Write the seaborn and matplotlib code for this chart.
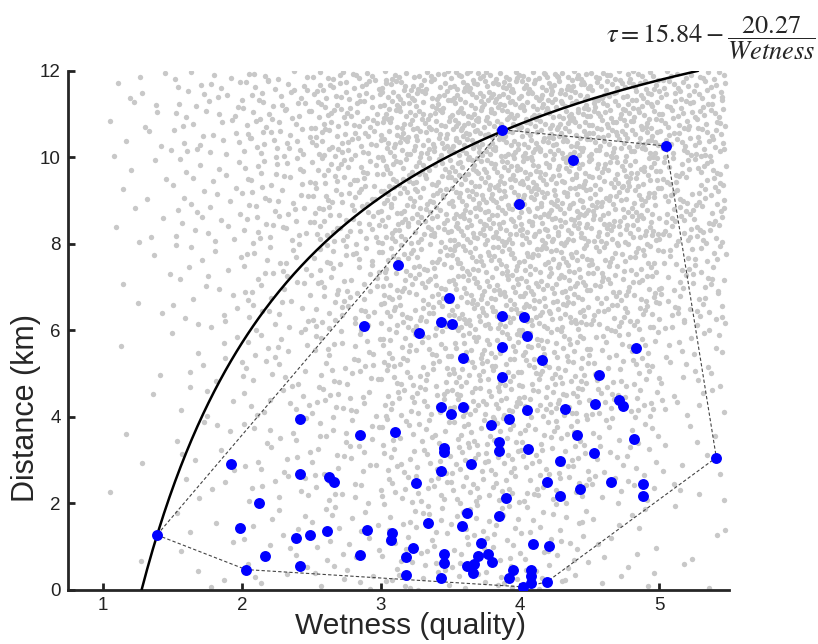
import numpy as np
import pandas as pd
import matplotlib
matplotlib.use("Agg")
import matplotlib.pyplot as plt
import seaborn as sns

# blue points (wetness, distance)
wet = [3.87, 5.05, 4.38, 3.99, 3.12, 3.49, 2.88, 3.27, 3.43, 3.51,
       3.87, 4.03, 4.05, 3.87, 3.59, 4.16, 4.83, 4.57, 3.87, 3.43,
       3.59, 3.50, 4.05, 3.92, 4.32, 4.54, 4.71, 4.74, 2.42, 2.85,
       3.10, 3.79, 3.85, 3.85, 4.06, 3.45, 3.45, 3.65, 3.43, 3.25,
       4.41, 4.82, 4.53, 4.29, 4.19, 4.65, 4.88, 4.43, 4.29, 4.88,
       3.90, 3.85, 5.41, 4.09, 4.21, 3.95, 3.92, 4.08, 4.08, 4.08,
       4.19, 4.02, 1.92, 2.42, 2.63, 2.66, 2.12, 1.99, 1.39, 2.39,
       2.49, 2.61, 2.17, 2.03, 2.42, 3.62, 3.58, 3.34, 2.90, 3.08,
       3.07, 3.23, 3.18, 2.85, 3.18, 3.45, 3.45, 3.43, 3.72, 3.70,
       3.77, 3.80, 3.62, 3.67, 3.66]
dist = [10.64, 10.26, 9.95, 8.91, 7.50, 6.74, 6.10, 5.95, 6.20, 6.15,
        6.33, 6.32, 5.86, 5.61, 5.37, 5.31, 5.59, 4.96, 4.92, 4.23,
        4.22, 4.07, 4.15, 3.94, 4.18, 4.29, 4.38, 4.26, 3.95, 3.59,
        3.64, 3.82, 3.43, 3.21, 3.26, 3.28, 3.18, 2.90, 2.74, 2.48,
        3.59, 3.48, 3.17, 2.98, 2.49, 2.49, 2.45, 2.34, 2.17, 2.17,
        2.12, 1.72, 3.06, 1.07, 1.01, 0.46, 0.27, 0.46, 0.31, 0.15,
        0.18, 0.07, 2.90, 2.67, 2.62, 2.49, 2.00, 1.42, 1.27, 1.19,
        1.26, 1.37, 0.78, 0.47, 0.55, 1.78, 1.48, 1.55, 1.38, 1.31,
        1.15, 0.96, 0.77, 0.80, 0.34, 0.83, 0.62, 0.27, 1.09, 0.79,
        0.82, 0.65, 0.56, 0.60, 0.40]

# background cloud: estimated dot counts per cell (x bins 0.5 wide, y bins 2 high)
cloud_x_edges = [1.05, 1.5, 2.0, 2.5, 3.0, 3.5, 4.0, 4.5, 5.0, 5.48]
cloud_y_edges = [0, 2, 4, 6, 8, 10, 12]
cloud_counts = [  # rows bottom -> top
    [1, 8, 16, 25, 40, 45, 35, 15, 6],
    [3, 12, 25, 35, 55, 70, 60, 35, 12],
    [3, 14, 30, 45, 75, 95, 90, 60, 28],
    [5, 20, 38, 60, 95, 125, 120, 95, 60],
    [10, 28, 50, 80, 120, 150, 150, 130, 90],
    [15, 38, 65, 100, 140, 170, 170, 150, 110],
]

# tau = a - b / wetness
tau_a, tau_b = 15.84, 20.27


def halton(i, base):
    f, r = 1.0, 0.0
    while i > 0:
        f /= base
        r += f * (i % base)
        i //= base
    return r


# spread each cell's dots with a halton layout
gx, gy = [], []
k = 1
for r, row in enumerate(cloud_counts):
    for c, n in enumerate(row):
        x0, x1 = cloud_x_edges[c], cloud_x_edges[c + 1]
        y0, y1 = cloud_y_edges[r], cloud_y_edges[r + 1]
        for j in range(n):
            gx.append(x0 + (x1 - x0) * halton(k, 2))
            gy.append(y0 + (y1 - y0) * halton(k, 3))
            k += 1
cloud = pd.DataFrame({"x": gx, "y": gy})
pts = pd.DataFrame({"x": wet, "y": dist})


def hull(p):
    p = sorted(set(p))
    def cross(o, a, b):
        return (a[0] - o[0]) * (b[1] - o[1]) - (a[1] - o[1]) * (b[0] - o[0])
    lo, up = [], []
    for q in p:
        while len(lo) >= 2 and cross(lo[-2], lo[-1], q) <= 0:
            lo.pop()
        lo.append(q)
    for q in reversed(p):
        while len(up) >= 2 and cross(up[-2], up[-1], q) <= 0:
            up.pop()
        up.append(q)
    h = lo[:-1] + up[:-1]
    return h + [h[0]]


hv = np.array(hull(list(zip(wet, dist))))

w = np.linspace(tau_b / tau_a, tau_b / (tau_a - 12), 300)
curve = pd.DataFrame({"w": w, "t": tau_a - tau_b / w})

sns.set_style("ticks")
plt.rcParams["font.family"] = ["Liberation Sans", "DejaVu Sans"]
plt.rcParams["mathtext.fontset"] = "stix"

fig = plt.figure(figsize=(8.18, 6.44), dpi=100)
ax = fig.add_axes([0.083, 0.084, 0.808, 0.806])

sns.scatterplot(data=cloud, x="x", y="y", ax=ax, color="#c8c8c8", s=15,
                linewidth=0, zorder=1)
ax.plot(hv[:, 0], hv[:, 1], color="#444444", lw=0.8, ls=(0, (3, 2)), zorder=2)
sns.lineplot(data=curve, x="w", y="t", ax=ax, color="black", lw=1.8,
             sort=False, estimator=None, zorder=3)
sns.scatterplot(data=pts, x="x", y="y", ax=ax, color="#0000ff", s=62,
                linewidth=0, zorder=4)

ax.set_xlim(0.75, 5.5)
ax.set_ylim(0, 12)
ax.set_xticks([1, 2, 3, 4, 5])
ax.set_yticks([0, 2, 4, 6, 8, 10, 12])
ax.tick_params(direction="in", length=5, width=2, labelsize=13.5,
               colors="#222222", pad=5)
for s in ["left", "bottom"]:
    ax.spines[s].set_linewidth(2)
sns.despine(ax=ax)

ax.set_xlabel("Wetness (quality)", fontsize=21.5)
ax.set_ylabel("Distance (km)", fontsize=22)
ax.xaxis.set_label_coords(0.519, -0.043)
ax.yaxis.set_label_coords(-0.04, 0.35)

fig.text(0.997, 0.94, r"$\tau = 15.84 - \dfrac{20.27}{Wetness}$",
         ha="right", va="center", fontsize=19)

fig.savefig("out.png", dpi=100)
